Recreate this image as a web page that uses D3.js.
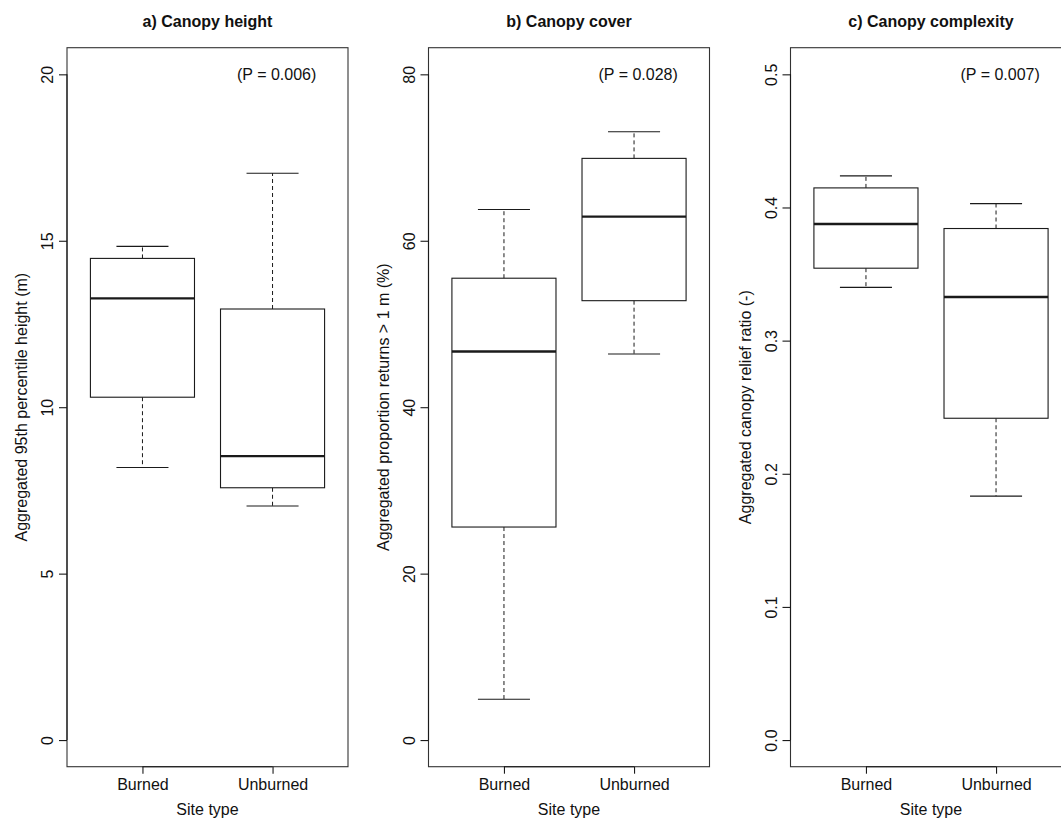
<!DOCTYPE html>
<html>
<head>
<meta charset="utf-8">
<script src="https://cdn.jsdelivr.net/npm/d3@7"></script>
<style>
  html, body { margin: 0; padding: 0; background: #fff; }
  svg { display: block; }
  text { font-family: "Liberation Sans", Arial, Helvetica, sans-serif; fill: #111; }
</style>
</head>
<body>
<svg id="chart" width="1061" height="818"></svg>
<script>
// ---- Data ----
const categories = ["Burned", "Unburned"];

// [lower whisker, Q1, median, Q3, upper whisker]
const heightBurned     = [8.19, 10.30, 13.27, 14.47, 14.83];
const heightUnburned   = [7.03, 7.58, 8.53, 12.95, 17.03];
const coverBurned      = [4.9, 25.6, 46.7, 55.5, 63.75];
const coverUnburned    = [46.4, 52.8, 62.9, 69.9, 73.1];
const complexBurned    = [0.340, 0.3544, 0.3876, 0.4147, 0.4237];
const complexUnburned  = [0.1832, 0.2417, 0.3328, 0.3842, 0.4029];

const titles = ["a) Canopy height", "b) Canopy cover", "c) Canopy complexity"];
const yLabels = ["Aggregated 95th percentile height (m)",
                 "Aggregated proportion returns > 1 m (%)",
                 "Aggregated canopy relief ratio (-)"];
const pLabels = ["(P = 0.006)", "(P = 0.028)", "(P = 0.007)"];
const yDomains = [[0, 20], [0, 80], [0, 0.5]];
const heightTicks = [0, 5, 10, 15, 20];
const coverTicks = [0, 20, 40, 60, 80];
const complexTicks = [0, 0.1, 0.2, 0.3, 0.4, 0.5];
const tickFormats = [d3.format("d"), d3.format("d"), d3.format(".1f")];
const xAxisLabel = "Site type";

const panelData = [
  [heightBurned, heightUnburned],
  [coverBurned, coverUnburned],
  [complexBurned, complexUnburned]
];
const panelTicks = [heightTicks, coverTicks, complexTicks];

// ---- Layout ----
const svg = d3.select("#chart");
const panelLeft = [67, 428.5, 790.5];
const panelWidth = 281;
const plotTop = 47.7, plotBottom = 766.7;
const ink = "#1a1a1a";

panelData.forEach((groups, i) => {
  const left = panelLeft[i], right = left + panelWidth;
  const [d0, d1] = yDomains[i];
  const pad = (d1 - d0) * 0.04;
  const y = d3.scaleLinear().domain([d0 - pad, d1 + pad]).range([plotBottom, plotTop]);
  const x = d3.scaleLinear().domain([0.42, 2.58]).range([left, right]);
  const g = svg.append("g");

  // frame
  g.append("rect")
    .attr("x", left).attr("y", plotTop)
    .attr("width", panelWidth).attr("height", plotBottom - plotTop)
    .attr("fill", "none").attr("stroke", "#333").attr("stroke-width", 1.1);

  // boxes
  groups.forEach((s, k) => {
    const cx = x(k + 1);
    const bw = (x(1.4) - x(1)) ; // half box width
    const cw = (x(1.2) - x(1));  // half cap width
    const [lo, q1, med, q3, hi] = s;
    // whiskers
    g.append("line").attr("x1", cx).attr("x2", cx).attr("y1", y(q3)).attr("y2", y(hi))
      .attr("stroke", ink).attr("stroke-width", 1).attr("stroke-dasharray", "4,3");
    g.append("line").attr("x1", cx).attr("x2", cx).attr("y1", y(q1)).attr("y2", y(lo))
      .attr("stroke", ink).attr("stroke-width", 1).attr("stroke-dasharray", "4,3");
    // caps
    [lo, hi].forEach(v => {
      g.append("line").attr("x1", cx - cw).attr("x2", cx + cw).attr("y1", y(v)).attr("y2", y(v))
        .attr("stroke", ink).attr("stroke-width", 1.1);
    });
    // box
    g.append("rect").attr("x", cx - bw).attr("y", y(q3))
      .attr("width", 2 * bw).attr("height", y(q1) - y(q3))
      .attr("fill", "#fff").attr("stroke", ink).attr("stroke-width", 1.1);
    // median
    g.append("line").attr("x1", cx - bw).attr("x2", cx + bw).attr("y1", y(med)).attr("y2", y(med))
      .attr("stroke", ink).attr("stroke-width", 2.4);
  });

  // y axis
  const yAxis = d3.axisLeft(y).tickValues(panelTicks[i]).tickFormat(tickFormats[i]).tickSize(8).tickPadding(0);
  const ya = g.append("g").attr("transform", `translate(${left},0)`).call(yAxis);
  ya.select(".domain").attr("d", `M0,${y(panelTicks[i][0])}V${y(panelTicks[i][panelTicks[i].length-1])}`)
    .attr("stroke", ink).attr("stroke-width", 1.1);
  ya.selectAll(".tick line").attr("stroke", ink).attr("stroke-width", 1.1);
  ya.selectAll(".tick text")
    .attr("x", 0).attr("dy", null).attr("y", 0)
    .attr("text-anchor", "middle")
    .attr("font-size", 16)
    .attr("fill", "#111")
    .attr("transform", "translate(-14,0) rotate(-90)");

  // x axis
  const xAxis = d3.axisBottom(x).tickValues([1, 2]).tickFormat((d) => categories[d - 1]).tickSize(7).tickPadding(6);
  const xa = g.append("g").attr("transform", `translate(0,${plotBottom})`).call(xAxis);
  xa.select(".domain").attr("d", `M${x(1)},0H${x(2)}`).attr("stroke", ink).attr("stroke-width", 1.1);
  xa.selectAll(".tick line").attr("stroke", ink).attr("stroke-width", 1.1);
  xa.selectAll(".tick text").attr("font-size", 16).attr("fill", "#111")
    .attr("dy", null).attr("y", 23.5);

  // x axis title
  g.append("text").attr("x", (left + right) / 2).attr("y", 815)
    .attr("text-anchor", "middle").attr("font-size", 16).text(xAxisLabel);

  // y axis title
  g.append("text")
    .attr("transform", `translate(${left - 40},${(plotTop + plotBottom) / 2}) rotate(-90)`)
    .attr("text-anchor", "middle").attr("font-size", 16).text(yLabels[i]);

  // panel title
  g.append("text").attr("x", (left + right) / 2).attr("y", 27)
    .attr("text-anchor", "middle").attr("font-size", 16).attr("font-weight", "bold").text(titles[i]);

  // p-value
  g.append("text").attr("x", left + 170).attr("y", 79.5)
    .attr("font-size", 16).text(pLabels[i]);
});
</script>
</body>
</html>
